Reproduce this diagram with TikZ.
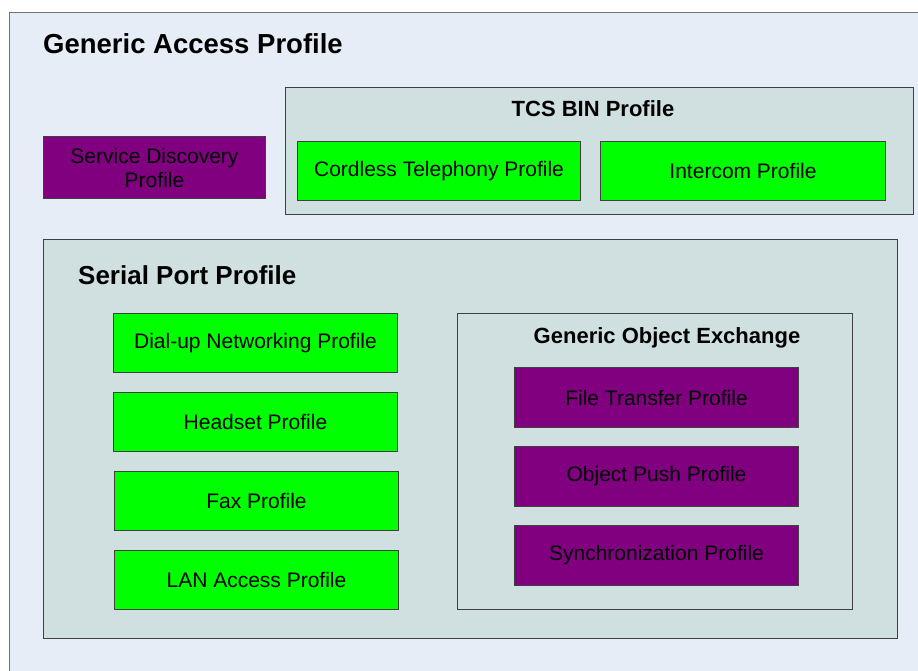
\documentclass[tikz,border=0pt]{standalone}
\usepackage{fontspec}
\setmainfont{Liberation Sans}
\definecolor{gapbg}{HTML}{E6EDF7}
\definecolor{grpbg}{HTML}{D0E0E1}
\definecolor{gr}{HTML}{00FF00}
\definecolor{pu}{HTML}{800080}
\definecolor{edge}{HTML}{404040}
\tikzset{
  box/.style={draw=edge, line width=1pt, anchor=north west, inner sep=0pt, align=center, font=\fontsize{21}{24}\selectfont, text=black},
  greenbox/.style={box, fill=gr},
  purplebox/.style={box, fill=pu, text=black},
  grpbox/.style={draw=edge, line width=1pt, fill=grpbg},
  ttl/.style={font=\bfseries\fontsize{22}{24}\selectfont, inner sep=0pt}
}
\begin{document}
\begin{tikzpicture}[x=1pt,y=-1pt]
\useasboundingbox (0,0) rectangle (918,670);
\clip (0,0) rectangle (918,670);
\fill[white] (0,0) rectangle (918,670);
% outer box
\draw[draw=gray!90!black, line width=1pt, fill=gapbg] (9.5,12.5) rectangle (940,700);
\node[ttl, anchor=base west, font=\bfseries\fontsize{27.5}{30}\selectfont] (gap) at (43,53) {Generic Access Profile};
% Service discovery
\node[purplebox, minimum width=222pt, minimum height=62pt] (sdp) at (43,136) {Service Discovery\\Profile};
% TCS BIN
\draw[grpbox] (285,87) rectangle (913,214);
\node[ttl, anchor=base] (tcs) at (593,116) {TCS BIN Profile};
\node[greenbox, minimum width=283pt, minimum height=59pt] (ctp) at (297,141) {Cordless Telephony Profile};
\node[greenbox, minimum width=285pt, minimum height=59pt] (icp) at (600,141) {Intercom Profile};
% Serial port
\draw[grpbox] (43,239) rectangle (897,638);
\node[ttl, anchor=base west, font=\bfseries\fontsize{26}{28}\selectfont] (spp) at (78,284) {Serial Port Profile};
\node[greenbox, minimum width=284pt, minimum height=59pt] (dun) at (113,313) {Dial-up Networking Profile};
\node[greenbox, minimum width=284pt, minimum height=59pt] (hsp) at (113,392) {Headset Profile};
\node[greenbox, minimum width=284pt, minimum height=59pt] (fax) at (114,471) {Fax Profile};
\node[greenbox, minimum width=284pt, minimum height=59pt] (lan) at (114,550) {LAN Access Profile};
% GOEP
\draw[grpbox] (457,313) rectangle (852,609);
\node[ttl, anchor=base] (goep) at (667,343) {Generic Object Exchange};
\node[purplebox, minimum width=284pt, minimum height=60pt] (ftp) at (514,367) {File Transfer Profile};
\node[purplebox, minimum width=284pt, minimum height=60pt] (opp) at (514,446) {Object Push Profile};
\node[purplebox, minimum width=284pt, minimum height=60pt] (syn) at (514,525) {Synchronization Profile};
\end{tikzpicture}
\end{document}
